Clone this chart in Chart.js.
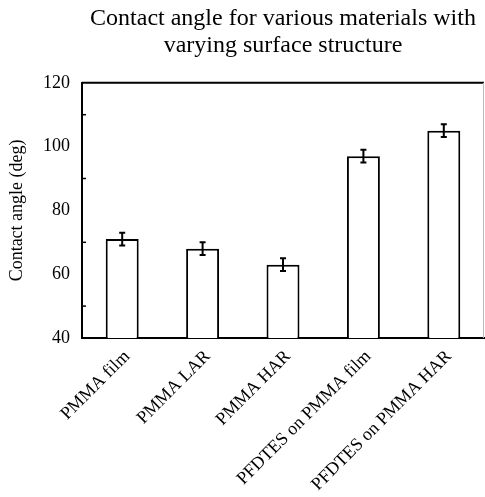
<!DOCTYPE html>
<html>
<head>
<meta charset="utf-8">
<script src="https://cdn.jsdelivr.net/npm/chart.js@4"></script>
<style>
  html, body { margin: 0; padding: 0; background: #fff; }
  #chart { display: block; }
</style>
</head>
<body>
<canvas id="chart" width="485" height="497"></canvas>
<script>
// data
const materials = ['PMMA film', 'PMMA LAR', 'PMMA HAR', 'PFDTES on PMMA film', 'PFDTES on PMMA HAR'];
const contactAngle = [71, 68, 63, 97, 105];
const angleError = [2, 2, 2, 2, 2];
const yTickLabels = [40, 60, 80, 100, 120];

const serif = '"Liberation Serif", "Times New Roman", serif';

// error bars drawn through the y scale
const errorBars = {
    id: 'errorBars',
    afterDatasetsDraw(chart) {
        const ctx = chart.ctx;
        const yScale = chart.scales.y;
        const meta = chart.getDatasetMeta(0);
        ctx.save();
        ctx.strokeStyle = '#000';
        ctx.lineWidth = 2;
        meta.data.forEach((bar, i) => {
            const hi = yScale.getPixelForValue(contactAngle[i] + angleError[i]);
            const lo = yScale.getPixelForValue(contactAngle[i] - angleError[i]);
            ctx.beginPath();
            ctx.moveTo(bar.x, hi); ctx.lineTo(bar.x, lo);
            ctx.moveTo(bar.x - 3, hi); ctx.lineTo(bar.x + 3, hi);
            ctx.moveTo(bar.x - 3, lo); ctx.lineTo(bar.x + 3, lo);
            ctx.stroke();
        });
        ctx.restore();
    }
};

// top / right frame and small inward ticks on the y axis
const frame = {
    id: 'frame',
    afterDraw(chart) {
        const ctx = chart.ctx;
        const { left, right, top } = chart.chartArea;
        const yScale = chart.scales.y;
        ctx.save();
        ctx.strokeStyle = '#000';
        ctx.lineWidth = 2;
        ctx.beginPath();
        ctx.moveTo(left, top);
        ctx.lineTo(right, top);
        ctx.stroke();
        ctx.strokeStyle = '#bbb';
        ctx.lineWidth = 1;
        ctx.beginPath();
        ctx.moveTo(right - 0.5, top);
        ctx.lineTo(right - 0.5, chart.chartArea.bottom);
        ctx.stroke();
        ctx.strokeStyle = '#000';
        ctx.lineWidth = 1.5;
        yScale.ticks.forEach(t => {
            if (yTickLabels.includes(t.value)) return;
            const y = yScale.getPixelForValue(t.value);
            ctx.beginPath();
            ctx.moveTo(left, y);
            ctx.lineTo(left + 4, y);
            ctx.stroke();
        });
        ctx.restore();
    }
};

new Chart(document.getElementById('chart').getContext('2d'), {
    type: 'bar',
    data: {
        labels: materials,
        datasets: [{
            data: contactAngle,
            backgroundColor: '#fff',
            borderColor: '#000',
            borderWidth: 2,
            categoryPercentage: 1,
            barPercentage: 0.41
        }]
    },
    options: {
        responsive: false,
        animation: false,
        devicePixelRatio: 1,
        layout: { padding: { left: 0, right: 1, top: 0, bottom: 0 } },
        plugins: {
            legend: { display: false },
            tooltip: { enabled: false },
            title: {
                display: true,
                fullSize: false,
                text: ['Contact angle for various materials with', 'varying surface structure'],
                color: '#000',
                font: { family: serif, size: 24, weight: 'normal', lineHeight: 1.1 },
                padding: { top: 6, bottom: 24 }
            }
        },
        scales: {
            x: {
                grid: { display: false, drawTicks: false },
                border: { display: true, color: '#000', width: 2 },
                ticks: {
                    color: '#000',
                    font: { family: serif, size: 18 },
                    minRotation: 45, maxRotation: 45,
                    padding: 8,
                    labelOffset: 5,
                    autoSkip: false
                },
                afterFit: (scale) => { scale.height = 159; }
            },
            y: {
                min: 40, max: 120,
                grid: { display: false, drawTicks: false },
                border: { display: true, color: '#000', width: 2 },
                ticks: {
                    stepSize: 10,
                    color: '#000',
                    font: { family: serif, size: 18 },
                    padding: 12,
                    callback: (v) => yTickLabels.includes(v) ? String(v) : ''
                },
                title: {
                    display: true,
                    text: 'Contact angle (deg)',
                    color: '#000',
                    font: { family: serif, size: 18, lineHeight: 1.2 },
                    padding: { top: 6, bottom: 0 }
                },
                afterFit: (scale) => { scale.width = 82; }
            }
        }
    },
    plugins: [errorBars, frame]
});
</script>
</body>
</html>
